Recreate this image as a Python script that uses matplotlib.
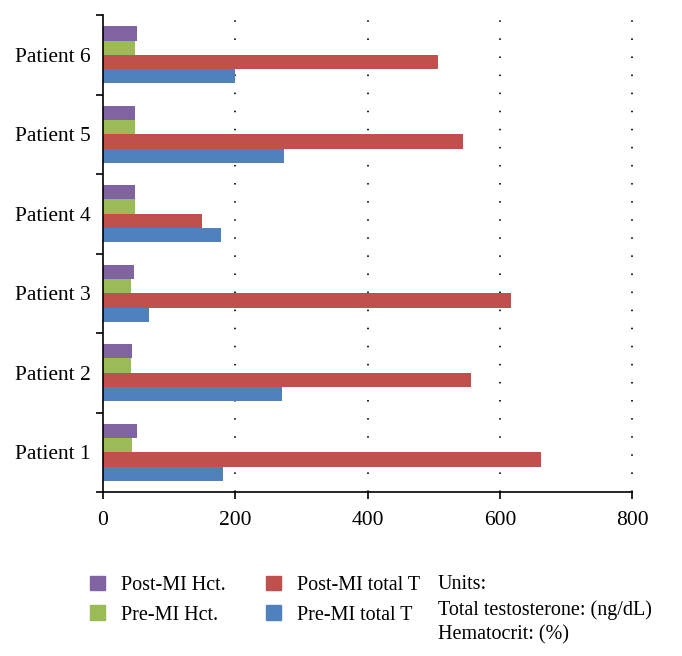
import numpy as np
import matplotlib.pyplot as plt
from matplotlib.patches import Patch

patients = ['Patient 1', 'Patient 2', 'Patient 3', 'Patient 4', 'Patient 5', 'Patient 6']
pre_t = [181, 271, 70, 178, 273, 200]
post_t = [662, 557, 617, 150, 544, 507]
pre_hct = [44, 43, 43, 49, 48, 49]
post_hct = [52, 44, 47, 49, 49, 51]

series = [
    ('Pre-MI total T', pre_t, '#4F81BD'),
    ('Post-MI total T', post_t, '#C0504D'),
    ('Pre-MI Hct.', pre_hct, '#9BBB59'),
    ('Post-MI Hct.', post_hct, '#8064A2'),
]

plt.rcParams['font.family'] = ['Liberation Serif', 'DejaVu Serif']

fig = plt.figure(figsize=(6.82, 6.56), dpi=100)
ax = fig.add_axes([0.151, 0.25, 0.776, 0.727])

y = np.arange(len(patients))
h = 0.18
for i, (name, vals, col) in enumerate(series):
    ax.barh(y + (i - 1.5) * h, vals, height=h, color=col, label=name)

ax.set_xlim(0, 800)
ax.set_ylim(-0.5, 5.5)
ax.set_xticks([0, 200, 400, 600, 800])
ax.set_yticks(y)
ax.set_yticklabels(patients)
ax.set_yticks(np.arange(-0.5, 6.0, 1), minor=True)
ax.tick_params(axis='y', which='major', length=0, labelsize=15.5, pad=9)
ax.tick_params(axis='y', which='minor', length=5, width=1.2, direction='out')
ax.tick_params(axis='x', length=5, width=1.2, labelsize=15.5, pad=9)
ax.spines['top'].set_visible(False)
ax.spines['right'].set_visible(False)
ax.spines['left'].set_linewidth(1.2)
ax.spines['bottom'].set_linewidth(1.2)
for v in [200, 400, 600, 800]:
    ax.axvline(v, color='#222222', lw=1.4, linestyle=(0, (0.8, 8.5)), zorder=0, clip_on=False)

# legend: purple/green in first column, red/blue in second
handles = [Patch(color=series[k][2], label=series[k][0]) for k in [3, 2, 1, 0]]
fig.legend(handles=handles, ncol=2, loc='upper left', bbox_to_anchor=(0.105, 0.15),
           frameon=False, fontsize=14.5, handlelength=0.75, handleheight=0.75,
           handletextpad=0.8, columnspacing=2.0, labelspacing=0.5)

fig.text(0.642, 0.123, 'Units:\nTotal testosterone: (ng/dL)\nHematocrit: (%)',
         fontsize=14.5, va='top', ha='left', linespacing=1.4)

fig.savefig('out.png', dpi=100)
